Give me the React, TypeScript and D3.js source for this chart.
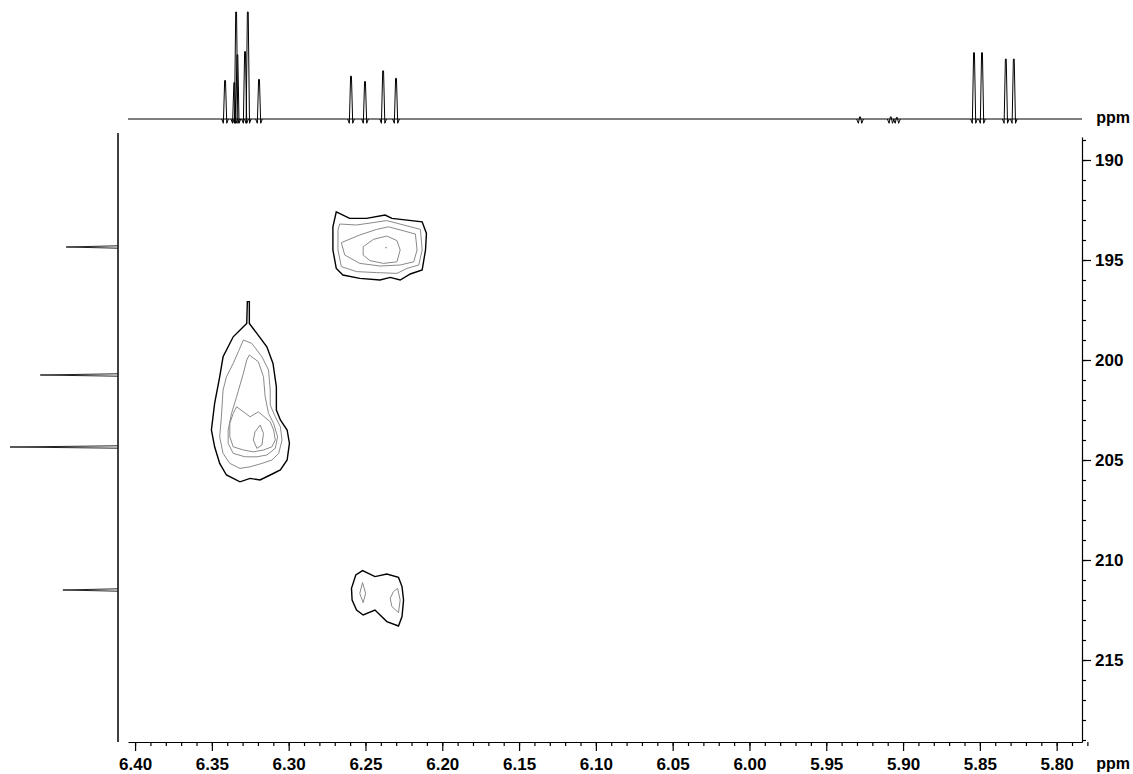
import React, { useEffect, useRef } from 'react'
import * as d3 from 'd3'

// 1H projection (top trace): shift in ppm and relative height
const protonShifts = [6.3414, 6.3354, 6.3342, 6.3334, 6.3284, 6.3266, 6.3193,
  6.2594, 6.2503, 6.2385, 6.2301,
  5.928, 5.908, 5.904,
  5.8538, 5.8486, 5.8331, 5.8279]
const protonHeights = [0.36, 0.34, 1.0, 0.6, 0.63, 1.0, 0.37,
  0.40, 0.35, 0.45, 0.38,
  0.02, 0.02, 0.015,
  0.62, 0.62, 0.56, 0.56]

// 13C projection (left trace)
const carbonShifts = [194.35, 200.75, 204.35, 211.5]
const carbonHeights = [0.48, 0.72, 1.0, 0.51]

// tick labels
const xMajorTicks = [6.40, 6.35, 6.30, 6.25, 6.20, 6.15, 6.10, 6.05, 6.00, 5.95, 5.90, 5.85, 5.80]
const yMajorTicks = [190, 195, 200, 205, 210, 215]

// contour rings [1H ppm, 13C ppm], outermost level first
const cross194: [number, number][][] = [
  [[6.2690, 192.59], [6.2603, 192.92], [6.2493, 192.92], [6.2372, 192.75], [6.2328, 192.92], [6.2131, 193.09],
    [6.2103, 193.67], [6.2109, 194.5], [6.2131, 195.5], [6.2208, 195.7], [6.2274, 196.0], [6.2339, 195.87],
    [6.2405, 196.0], [6.2537, 195.92], [6.2647, 195.75], [6.2690, 195.42], [6.2712, 194.5], [6.2712, 193.34]],
  [[6.2668, 193.2], [6.2558, 193.25], [6.2361, 193.03], [6.2142, 193.47], [6.2131, 194.5], [6.2153, 195.25],
    [6.2230, 195.42], [6.2295, 195.67], [6.2427, 195.63], [6.2558, 195.58], [6.2657, 195.33], [6.2679, 194.5],
    [6.2679, 193.5]],
  [[6.2657, 194.13], [6.2537, 193.75], [6.2427, 193.47], [6.2350, 193.34], [6.2175, 193.7], [6.2164, 194.5],
    [6.2186, 195.09], [6.2274, 195.25], [6.2405, 195.3], [6.2537, 195.17], [6.2635, 194.75]],
  [[6.2515, 194.34], [6.2449, 193.97], [6.2361, 193.8], [6.2295, 194.03], [6.2274, 194.5], [6.2295, 195.09],
    [6.2383, 195.17], [6.2471, 195.03], [6.2515, 194.75]],
]
const cross194Apex: [number, number] = [6.2366, 194.38]

const cross203: [number, number][][] = [
  [[6.3269, 197.08], [6.3256, 197.08], [6.3256, 198.17], [6.3207, 198.67], [6.3142, 199.34], [6.3102, 200.17],
    [6.3080, 201.34], [6.3080, 202.50], [6.3054, 203.00], [6.3010, 203.50], [6.2995, 204.17], [6.3010, 205.00],
    [6.3054, 205.50], [6.3120, 205.75], [6.3186, 206.00], [6.3251, 205.92], [6.3317, 206.09], [6.3405, 205.75],
    [6.3449, 205.17], [6.3482, 204.34], [6.3503, 203.50], [6.3482, 202.17], [6.3449, 200.84], [6.3427, 199.84],
    [6.3361, 198.84], [6.3295, 198.34], [6.3273, 198.17]],
  [[6.3295, 199.0], [6.3240, 199.17], [6.3174, 199.84], [6.3131, 200.5], [6.3120, 201.5], [6.3120, 202.25],
    [6.3087, 202.84], [6.3054, 203.34], [6.3043, 204.0], [6.3065, 204.67], [6.3109, 205.0], [6.3174, 205.17],
    [6.3251, 205.34], [6.3317, 205.42], [6.3383, 205.17], [6.3427, 204.67], [6.3449, 203.84], [6.3438, 202.84],
    [6.3427, 201.5], [6.3405, 200.84], [6.3361, 200.17], [6.3328, 199.59]],
  [[6.3256, 199.75], [6.3197, 200.09], [6.3164, 200.84], [6.3153, 201.84], [6.3131, 202.67], [6.3098, 203.17],
    [6.3072, 203.84], [6.3087, 204.42], [6.3142, 204.75], [6.3207, 204.84], [6.3284, 204.84], [6.3361, 204.67],
    [6.3394, 204.17], [6.3394, 203.5], [6.3372, 202.67], [6.3339, 201.84], [6.3295, 200.67], [6.3273, 200.0]],
  [[6.3339, 202.34], [6.3251, 202.84], [6.3197, 202.59], [6.3120, 203.09], [6.3098, 203.5], [6.3087, 204.0],
    [6.3109, 204.34], [6.3164, 204.5], [6.3230, 204.59], [6.3295, 204.5], [6.3361, 204.34], [6.3383, 203.84],
    [6.3383, 203.17], [6.3361, 202.67]],
  [[6.3186, 203.25], [6.3164, 203.67], [6.3174, 204.25], [6.3207, 204.42], [6.3230, 204.0], [6.3219, 203.59]],
]

const cross212: [number, number][][] = [
  [[6.2591, 211.42], [6.2563, 210.75], [6.2519, 210.53], [6.2438, 210.83], [6.2361, 210.7], [6.2285, 210.87],
    [6.2262, 211.33], [6.2252, 212.0], [6.2262, 212.83], [6.2285, 213.3], [6.2361, 213.08], [6.2438, 212.5],
    [6.2515, 212.75], [6.2558, 212.5], [6.2587, 212.0]],
  [[6.2519, 211.13], [6.2499, 211.67], [6.2515, 212.13], [6.2537, 211.67]],
  [[6.2291, 211.42], [6.2274, 212.0], [6.2285, 212.63], [6.2328, 212.33], [6.2339, 211.92], [6.2318, 211.58]],
]

export default function App() {
  const svgRef = useRef<SVGSVGElement | null>(null)

  useEffect(() => {
    if (!svgRef.current) return
    const svg = d3.select(svgRef.current)
    svg.selectAll('*').remove()

    const width = 1133
    const height = 774
    const font = "'Liberation Sans', Arial, Helvetica, sans-serif"

    // scales: 1H on x (reversed), 13C on y (increasing downwards)
    const x = d3.scaleLinear().domain([6.4046, 5.7835]).range([128, 1082])
    const y = d3.scaleLinear().domain([188.85, 219.1]).range([137, 742])
    const topI = d3.scaleLinear().domain([0, 1]).range([119, 12])
    const leftI = d3.scaleLinear().domain([0, 1]).range([118, 10])

    svg.attr('width', width).attr('height', height).style('background', '#fff')

    // top 1H trace: baseline plus narrow peaks
    const line = d3.line<[number, number]>()
    svg.append('path')
      .attr('d', line([[x(6.4046), topI(0)], [x(5.7835), topI(0)]]))
      .attr('stroke', '#000').attr('stroke-width', 1).attr('fill', 'none')

    const hw = 0.0011
    protonShifts.forEach((s, i) => {
      const pts: [number, number][] = [
        [x(s + 2 * hw), topI(0)], [x(s + hw), topI(-0.04)], [x(s + 0.25 * hw), topI(protonHeights[i])],
        [x(s - 0.25 * hw), topI(protonHeights[i])], [x(s - hw), topI(-0.04)], [x(s - 2 * hw), topI(0)],
      ]
      svg.append('path').attr('d', line(pts))
        .attr('stroke', '#000').attr('stroke-width', 1).attr('fill', 'none')
    })

    // left 13C trace
    svg.append('path')
      .attr('d', line([[leftI(0), y(188.65)], [leftI(0), y(219.1)]]))
      .attr('stroke', '#000').attr('stroke-width', 1.5).attr('fill', 'none')

    const vw = 0.06
    carbonShifts.forEach((s, i) => {
      const pts: [number, number][] = [
        [leftI(0), y(s - vw)], [leftI(carbonHeights[i]), y(s)], [leftI(0), y(s + vw)],
      ]
      svg.append('path').attr('d', line(pts))
        .attr('stroke', '#222').attr('stroke-width', 1).attr('fill', 'none')
    })

    // contour maps
    const ring = d3.line<[number, number]>()
      .x(d => x(d[0]))
      .y(d => y(d[1]))
      .curve(d3.curveLinearClosed)

    ;[cross194, cross203, cross212].forEach(rings => {
      rings.forEach((r, i) => {
        svg.append('path').attr('d', ring(r))
          .attr('fill', 'none')
          .attr('stroke', i === 0 ? '#000' : '#8a8a8a')
          .attr('stroke-width', i === 0 ? 1.4 : 1)
      })
    })
    svg.append('circle')
      .attr('cx', x(cross194Apex[0])).attr('cy', y(cross194Apex[1]))
      .attr('r', 0.8).attr('fill', '#888')

    // bottom axis (1H)
    const xAxis = svg.append('g').attr('transform', 'translate(0, 742)')
    xAxis.call(d3.axisBottom(x).tickValues(xMajorTicks).tickSize(9).tickSizeOuter(0)
      .tickPadding(7).tickFormat(d3.format('.2f')))
    svg.append('g').attr('transform', 'translate(0, 742)')
      .call(d3.axisBottom(x).tickValues(d3.range(578, 641).map(v => v / 100)).tickSize(4).tickFormat(() => ''))
      .call(g => g.select('.domain').remove())

    // right axis (13C)
    const yAxis = svg.append('g').attr('transform', 'translate(1082, 0)')
    yAxis.call(d3.axisRight(y).tickValues(yMajorTicks).tickSize(9).tickSizeOuter(0).tickPadding(4))
    svg.append('g').attr('transform', 'translate(1082, 0)')
      .call(d3.axisRight(y).tickValues(d3.range(189, 220)).tickSize(4).tickFormat(() => ''))
      .call(g => g.select('.domain').remove())

    svg.selectAll('.tick text')
      .attr('font-family', font)
      .attr('font-weight', 'bold')
      .attr('font-size', 17)
      .attr('fill', '#000')
    svg.selectAll('.domain, .tick line').attr('stroke', '#000').attr('stroke-width', 1.2)

    // unit labels
    svg.append('text').attr('x', 1130).attr('y', 769).text('ppm')
      .attr('text-anchor', 'end')
      .attr('font-family', font).attr('font-weight', 'bold').attr('font-size', 16)
    svg.append('text').attr('x', 1130).attr('y', 123).text('ppm')
      .attr('text-anchor', 'end')
      .attr('font-family', font).attr('font-weight', 'bold').attr('font-size', 16)
  }, [])

  return (
    <div style={{ position: 'absolute', left: 0, top: 0 }}>
      <svg ref={svgRef}></svg>
    </div>
  )
}
